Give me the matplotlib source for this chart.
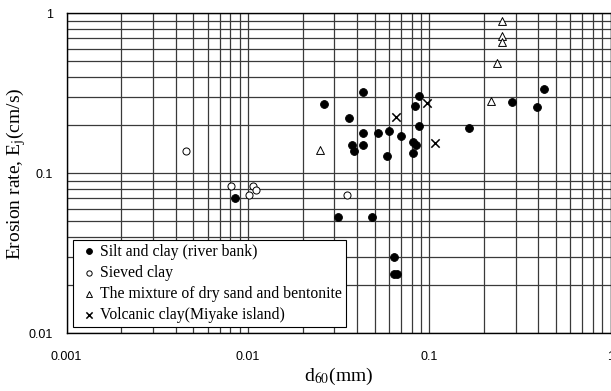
import matplotlib
matplotlib.use("Agg")
import matplotlib.pyplot as plt
from matplotlib.ticker import LogLocator, FixedLocator, FixedFormatter, NullFormatter

plt.rcParams["mathtext.fontset"] = "stix"

# Silt and clay (river bank)
silt_d60 = [0.0262, 0.0433, 0.0362, 0.0433, 0.0373, 0.0383, 0.0433, 0.0521,
            0.0602, 0.0582, 0.0695, 0.0874, 0.0830, 0.0874, 0.0810, 0.0845,
            0.0816, 0.1656, 0.287, 0.391, 0.428, 0.0312, 0.0483, 0.0636,
            0.0641, 0.0661, 0.00845]
silt_ej = [0.271, 0.322, 0.222, 0.178, 0.151, 0.137, 0.151, 0.178,
           0.185, 0.128, 0.172, 0.304, 0.265, 0.198, 0.158, 0.151,
           0.134, 0.192, 0.279, 0.261, 0.335, 0.0535, 0.0535, 0.0301,
           0.0234, 0.0234, 0.0698]

# Sieved clay
sieved_d60 = [0.00453, 0.00806, 0.0107, 0.0111, 0.0101, 0.0353]
sieved_ej = [0.138, 0.0833, 0.0833, 0.0787, 0.0732, 0.0732]

# Mixture of dry sand and bentonite
mix_d60 = [0.0250, 0.251, 0.251, 0.251, 0.237, 0.219]
mix_ej = [0.140, 0.90, 0.72, 0.66, 0.49, 0.284]

# Volcanic clay (Miyake island)
volc_d60 = [0.0655, 0.0968, 0.108]
volc_ej = [0.226, 0.274, 0.154]

series_labels = ["Silt and clay (river bank)", "Sieved clay",
                 "The mixture of dry sand and bentonite",
                 "Volcanic clay(Miyake island)"]

x_ticks = [0.001, 0.01, 0.1, 1]
x_ticklabels = ["0.001", "0.01", "0.1", "1"]
y_ticks = [0.01, 0.1, 1]
y_ticklabels = ["0.01", "0.1", "1"]

fig = plt.figure(figsize=(6.11, 3.91), dpi=100)
ax = fig.add_axes([0.109, 0.1476, 0.8903, 0.8184])
ax.set_xscale("log")
ax.set_yscale("log")
ax.set_xlim(0.001, 1)
ax.set_ylim(0.01, 1)

grid_kw = dict(color="#3a3a3a", linewidth=0.9)
ax.grid(True, which="major", **grid_kw)
ax.grid(True, which="minor", **grid_kw)
ax.set_axisbelow(True)

ax.scatter(silt_d60, silt_ej, s=32, marker="o", facecolor="black",
           edgecolor="black", linewidth=0.6, zorder=3, label=series_labels[0])
ax.scatter(sieved_d60, sieved_ej, s=26, marker="o", facecolor="white",
           edgecolor="black", linewidth=0.7, zorder=3, label=series_labels[1])
ax.scatter(mix_d60, mix_ej, s=32, marker="^", facecolor="white",
           edgecolor="black", linewidth=0.7, zorder=3, label=series_labels[2])
ax.scatter(volc_d60, volc_ej, s=36, marker="x", color="black",
           linewidth=1.1, zorder=3, label=series_labels[3])

ax.xaxis.set_major_locator(FixedLocator(x_ticks))
ax.xaxis.set_major_formatter(FixedFormatter(x_ticklabels))
ax.yaxis.set_major_locator(FixedLocator(y_ticks))
ax.yaxis.set_major_formatter(FixedFormatter(y_ticklabels))
ax.xaxis.set_minor_locator(LogLocator(base=10, subs=range(2, 10)))
ax.yaxis.set_minor_locator(LogLocator(base=10, subs=range(2, 10)))
ax.xaxis.set_minor_formatter(NullFormatter())
ax.yaxis.set_minor_formatter(NullFormatter())
ax.tick_params(which="both", length=0)
ax.tick_params(axis="x", pad=13)
ax.tick_params(axis="y", pad=10)
for lab in ax.get_xticklabels() + ax.get_yticklabels():
    lab.set_fontfamily("Liberation Sans")
    lab.set_fontsize(9)

for sp in ax.spines.values():
    sp.set_color("black")
    sp.set_linewidth(1.0)

ax.set_xlabel(r"d$_{60}$(mm)", fontfamily="Liberation Serif", fontsize=14,
              labelpad=2)
ax.set_ylabel(r"Erosion rate, E$_\mathrm{j}$(cm/s)",
              fontfamily="Liberation Serif", fontsize=14)
ax.yaxis.set_label_coords(-0.071, 0.5)

leg = ax.legend(loc="lower left", bbox_to_anchor=(0.0116, 0.0197),
                borderaxespad=0, fancybox=False, framealpha=1,
                edgecolor="black", handlelength=1.5, handletextpad=0.0,
                labelspacing=0.33, borderpad=0.25, markerscale=0.75,
                prop={"family": "Liberation Serif", "size": 11.3})
leg.get_frame().set_linewidth(0.8)
leg.set_zorder(5)

fig.savefig("out.png", dpi=100)
